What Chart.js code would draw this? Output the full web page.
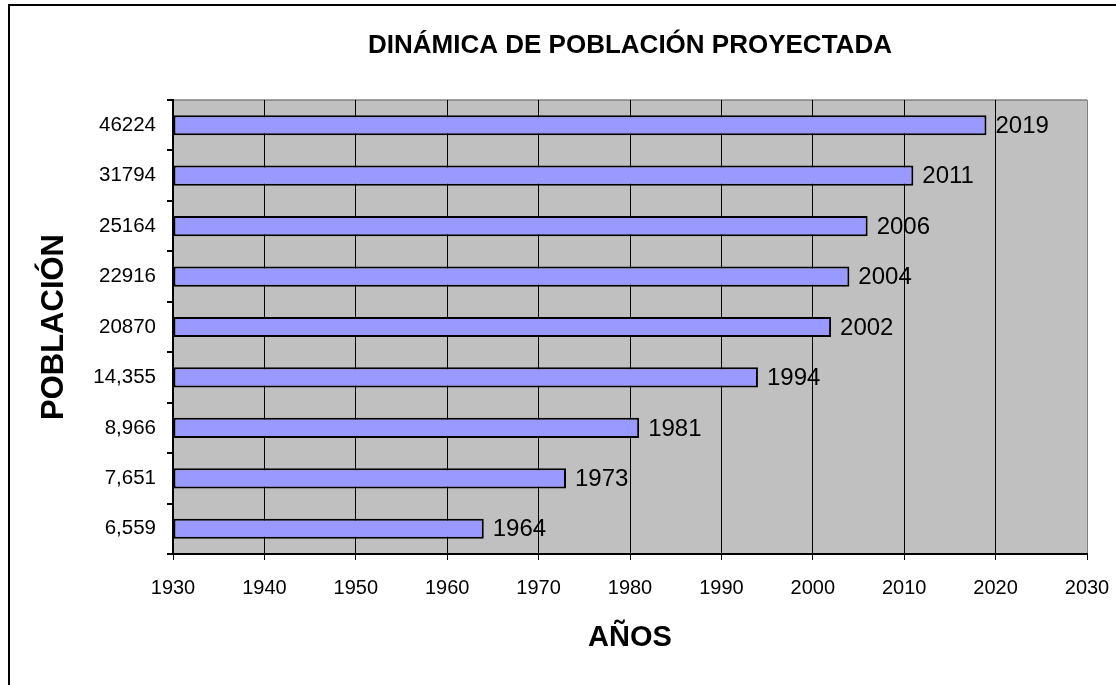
<!DOCTYPE html>
<html>
<head>
<meta charset="utf-8">
<title>Dinámica de población proyectada</title>
<script src="https://cdn.jsdelivr.net/npm/chart.js@4/dist/chart.umd.min.js"></script>
<style>
    html, body { margin: 0; padding: 0; background: #fff; }
    canvas { display: block; }
</style>
</head>
<body>
<canvas id="chart" width="1116" height="685"></canvas>
<script>
// Data (bottom to top, as in the reference)
const poblacion = ['6,559', '7,651', '8,966', '14,355', '20870', '22916', '25164', '31794', '46224'];
const anios = [1964, 1973, 1981, 1994, 2002, 2004, 2006, 2011, 2019];

// Axis range
const xMin = 1930;
const xMax = 2030;
const xStep = 10;

const FONT = "'Liberation Sans', Arial, sans-serif";

// White page + left/top frame line like the original sheet
const framePlugin = {
    id: 'frame',
    beforeDraw(chart) {
        const { ctx, chartArea } = chart;
        ctx.save();
        ctx.fillStyle = '#fff';
        ctx.fillRect(0, 0, chart.width, chart.height);

        ctx.strokeStyle = '#000';
        ctx.lineWidth = 2;
        ctx.beginPath();
        ctx.moveTo(9, chart.height + 2);
        ctx.lineTo(9, 5);
        ctx.lineTo(chart.width + 2, 5);
        ctx.stroke();

        // plot area background
        ctx.fillStyle = '#C0C0C0';
        ctx.fillRect(chartArea.left, chartArea.top, chartArea.right - chartArea.left, chartArea.bottom - chartArea.top);
        ctx.strokeStyle = '#808080';
        ctx.lineWidth = 1.5;
        ctx.beginPath();
        ctx.moveTo(chartArea.left, chartArea.top);
        ctx.lineTo(chartArea.right, chartArea.top);
        ctx.stroke();
        ctx.restore();
    }
};

// Year label at the end of every bar
const barLabels = {
    id: 'barLabels',
    afterDatasetsDraw(chart) {
        const { ctx } = chart;
        const meta = chart.getDatasetMeta(0);
        ctx.save();
        ctx.font = '24px ' + FONT;
        ctx.fillStyle = '#000';
        ctx.textAlign = 'left';
        ctx.textBaseline = 'middle';
        meta.data.forEach((bar, i) => {
            ctx.fillText(String(chart.data.datasets[0].data[i]), bar.x + 9, bar.y + 1);
        });
        ctx.restore();
    }
};

new Chart(document.getElementById('chart'), {
    type: 'bar',
    data: {
        labels: poblacion,
        datasets: [{
            data: anios,
            base: xMin,
            backgroundColor: '#9999FF',
            borderColor: '#000',
            borderWidth: 2,
            borderSkipped: false,
            barPercentage: 0.4,
            categoryPercentage: 1
        }]
    },
    options: {
        indexAxis: 'y',
        responsive: false,
        animation: false,
        devicePixelRatio: 1,
        layout: { padding: { left: 0, right: 29, top: 0, bottom: 0 } },
        plugins: {
            legend: { display: false },
            tooltip: { enabled: false },
            title: {
                display: true,
                text: 'DINÁMICA DE POBLACIÓN PROYECTADA',
                fullSize: false,
                color: '#000',
                font: { family: FONT, size: 26, weight: 'bold' },
                padding: { top: 30, bottom: 38.8 }
            }
        },
        scales: {
            x: {
                type: 'linear',
                min: xMin,
                max: xMax,
                afterFit(scale) {
                    scale.height = 131;
                    // let the last tick label hang over, like the original
                    scale.paddingLeft = 0;
                    scale.paddingRight = 0;
                },
                ticks: {
                    stepSize: xStep,
                    color: '#000',
                    padding: 16,
                    font: { family: FONT, size: 20 },
                    callback: v => String(v)
                },
                grid: {
                    color: ctx => (ctx.tick && ctx.tick.value === xMax) ? '#808080' : '#000',
                    tickColor: '#000',
                    lineWidth: 1,
                    tickLength: 6
                },
                border: { color: '#000', width: 2 },
                title: {
                    display: true,
                    text: 'AÑOS',
                    color: '#000',
                    font: { family: FONT, size: 29, weight: 'bold' },
                    padding: { top: 0, bottom: 30 }
                }
            },
            y: {
                reverse: true,
                afterFit(scale) { scale.width = 173; },
                ticks: {
                    color: '#000',
                    padding: 11,
                    font: { family: FONT, size: 20.5 }
                },
                grid: {
                    offset: true,
                    drawOnChartArea: false,
                    tickColor: '#000',
                    tickLength: 6,
                    lineWidth: 2
                },
                border: { color: '#000', width: 2 },
                title: {
                    display: true,
                    text: 'POBLACIÓN',
                    color: '#000',
                    font: { family: FONT, size: 31, weight: 'bold' },
                    padding: { top: 36, bottom: 0 }
                }
            }
        }
    },
    plugins: [framePlugin, barLabels]
});
</script>
</body>
</html>
